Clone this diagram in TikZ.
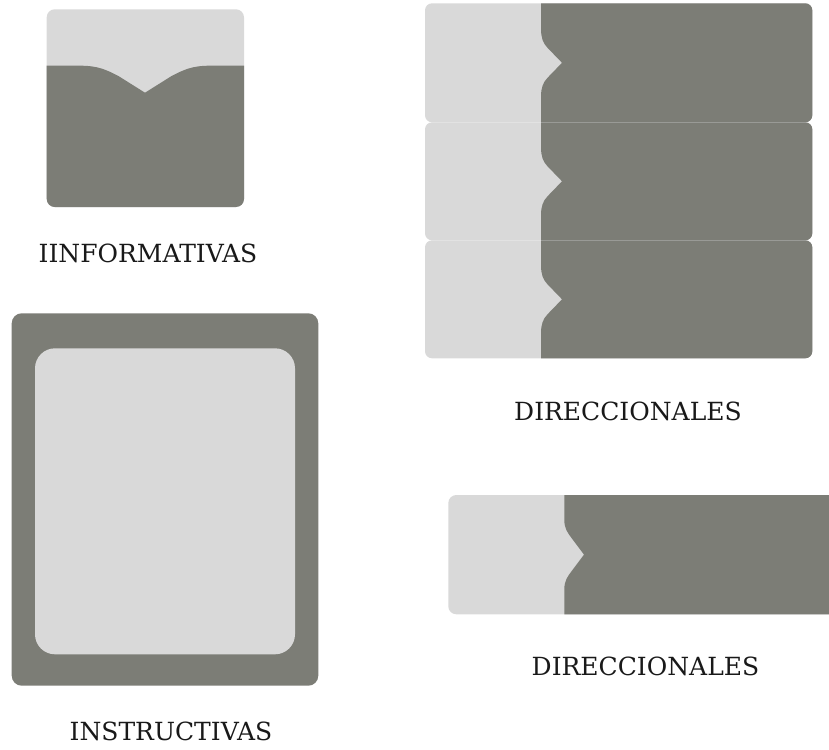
\documentclass[tikz,border=0pt]{standalone}
\usepackage{fontspec}
\setmainfont{DejaVu Serif}
\definecolor{lightg}{RGB}{217,217,217}
\definecolor{darkg}{RGB}{124,125,118}
\tikzset{
  lbl/.style={inner sep=0pt, text=black!90, font=\fontsize{25}{30}\selectfont},
}
\begin{document}
\begin{tikzpicture}[x=1pt,y=-1pt]
\useasboundingbox (0,0) rectangle (829,749);
\clip (0,0) rectangle (829,749);
% ---------- INFORMATIVAS ----------
\begin{scope}
  \path[clip, rounded corners=8pt] (46.7,9.3) rectangle (244,207);
  \fill[lightg] (40,0) rectangle (250,210);
  \fill[darkg] (40,65.7) -- (80,65.7) .. controls (98,65.7) and (106.2,69.7) .. (118.7,76.2)
     -- (145,92.7) -- (171.3,76.2) .. controls (183.8,69.7) and (192,65.7) .. (210,65.7)
     -- (250,65.7) -- (250,210) -- (40,210) -- cycle;
\end{scope}
\node[lbl] (inf) at (148,253.5) {IINFORMATIVAS};
% ---------- INSTRUCTIVAS ----------
\fill[darkg, rounded corners=10pt] (11.7,313.3) rectangle (318.3,685.7);
\fill[lightg, rounded corners=20pt] (35,348.3) rectangle (295,654.3);
\node[lbl] (ins) at (171,731.7) {INSTRUCTIVAS};
% ---------- DIRECCIONALES (3 rows) ----------
\foreach \T/\B in {3.3/122.3, 122.3/240.3, 240.3/358.3}{
  \begin{scope}
    \pgfmathsetmacro{\M}{(\T+\B)/2}
    \path[clip, rounded corners=7pt] (425,\T) rectangle (812.3,\B);
    \fill[lightg] (420,\T-2) rectangle (820,\B+2);
    \fill[darkg] (541,\T-2) -- (541,\M-34) .. controls (541,\M-25) and (543,\M-19.7) .. (547.5,\M-15)
       -- (562,\M) -- (547.5,\M+15) .. controls (543,\M+19.7) and (541,\M+25) .. (541,\M+34)
       -- (541,\B+2) -- (820,\B+2) -- (820,\T-2) -- cycle;
  \end{scope}
}
\node[lbl] (dir1) at (628,411.7) {DIRECCIONALES};
% ---------- DIRECCIONALES (single) ----------
\begin{scope}
  \def\T{495}\def\B{614.3}\def\M{554.6}
  \path[clip, rounded corners=8pt] (448.3,\T) rectangle (845,\B);
  \fill[lightg] (440,\T-2) rectangle (850,\B+2);
  \fill[darkg] (564.3,\T-2) -- (564.3,\M-35) .. controls (564.3,\M-26) and (567.5,\M-22) .. (572,\M-16)
     -- (584,\M) -- (572,\M+16) .. controls (567.5,\M+22) and (564.3,\M+26) .. (564.3,\M+35)
     -- (564.3,\B+2) -- (850,\B+2) -- (850,\T-2) -- cycle;
\end{scope}
\node[lbl] (dir2) at (645.5,666.7) {DIRECCIONALES};
\end{tikzpicture}
\end{document}
